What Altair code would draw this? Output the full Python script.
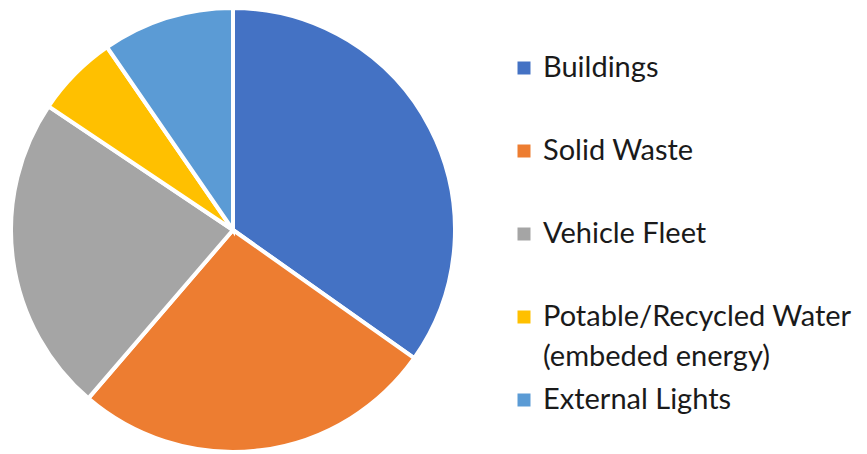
import altair as alt
import pandas as pd

categories = ["Buildings", "Solid Waste", "Vehicle Fleet",
              "Potable/Recycled Water", "External Lights"]
legend_labels = ["Buildings", "Solid Waste", "Vehicle Fleet",
                 "Potable/Recycled Water\n(embeded energy)", "External Lights"]
values = [34.8, 26.5, 23.1, 6.0, 9.6]
colors = ["#4472C4", "#ED7D31", "#A5A5A5", "#FFC000", "#5B9BD5"]

df = pd.DataFrame({
    "category": categories,
    "label": legend_labels,
    "value": values,
    "idx": list(range(len(categories))),
})

color_scale = alt.Scale(domain=categories, range=colors)

pie = alt.Chart(df).mark_arc(outerRadius=222, stroke="white", strokeWidth=4).encode(
    theta=alt.Theta("value:Q", stack=True),
    color=alt.Color("category:N", scale=color_scale, legend=None),
    order=alt.Order("idx:Q"),
    x=alt.value(225),
    y=alt.value(222),
)

ypos = alt.Y("category:N", sort=categories, axis=None,
             scale=alt.Scale(type="point", range=[60, 392], padding=0))

squares = alt.Chart(df).mark_square(size=169, opacity=1).encode(
    y=ypos,
    x=alt.value(516),
    color=alt.Color("category:N", scale=color_scale, legend=None),
)

texts = alt.Chart(df).mark_text(
    align="left", baseline="middle", font="Lato", fontSize=29,
    color="#1a1a1a", lineBreak="\n", lineHeight=40,
).encode(
    y=ypos,
    x=alt.value(535),
    text="label:N",
)

chart = alt.layer(pie, squares, texts).properties(
    width=851, height=446, autosize="none", padding=0,
).configure_view(stroke=None)

chart.save("out.html", embed_options={"renderer": "svg", "actions": False})
